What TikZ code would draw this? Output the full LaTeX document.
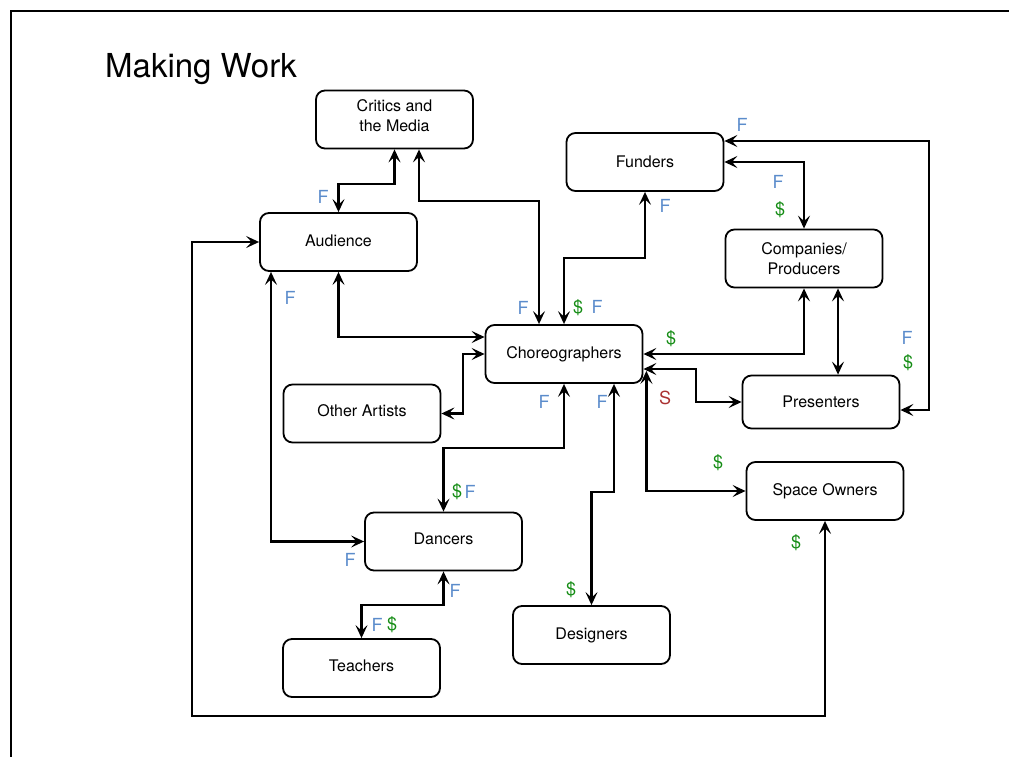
\documentclass[tikz,border=0pt]{standalone}
\usepackage{fontspec}
\setmainfont{TeX Gyre Heros}
\usetikzlibrary{arrows.meta}
\definecolor{fblue}{RGB}{91,140,203}
\definecolor{dgreen}{RGB}{20,140,20}
\definecolor{sred}{RGB}{170,50,50}
\begin{document}
\begin{tikzpicture}[x=1pt,y=-1pt,
  >={Stealth[length=13pt,width=12pt,inset=5.5pt]},
  box/.style={draw, line width=1.8pt, rounded corners=9pt, minimum width=157pt, minimum height=58pt,
    align=center, inner sep=0pt, font=\fontsize{16}{20}\selectfont},
  conn/.style={draw, line width=2.5pt, <->},
  lab/.style={font=\fontsize{18}{18}\selectfont, inner sep=0pt},
  fl/.style={lab, text=fblue},
  dl/.style={lab, text=dgreen},
  sl/.style={lab, text=sred}]
\useasboundingbox (0,0) rectangle (1009,757);
\draw[line width=1.8pt] (11,757) -- (11,11) -- (1009,11);
\node[anchor=base west, font=\fontsize{33}{33}\selectfont, inner sep=0pt] (title) at (105,78) {Making Work};

% nodes
\node[box, text depth=8pt] (cri) at (394.5,119.5) {Critics and\\the Media};
\node[box] (fun) at (645,162) {Funders};
\node[box, text depth=2pt] (aud) at (338.5,242) {Audience};
\node[box] (com) at (804,258.5) {Companies/\\Producers};
\node[box] (cho) at (564,354) {Choreographers};
\node[box, text depth=6pt] (oth) at (362,413.5) {Other Artists};
\node[box, minimum height=53pt] (pre) at (821,402) {Presenters};
\node[box] (spa) at (825,491) {Space Owners};
\node[box, text depth=6pt] (dan) at (443.5,541.5) {Dancers};
\node[box, text depth=4pt] (tea) at (361.5,668) {Teachers};
\node[box] (des) at (591.5,635) {Designers};

% connectors
\draw[conn] (aud.north) -- (aud.north |- 0,184) -| (cri.south);
\draw[conn] (cri.south -| 419,0) |- (539,201) -- (cho.north -| 539,0);
\draw[conn] (cho.north) |- (fun.south |- 0,258) -- (fun.south);
\draw[conn] (fun.east) -| (com.north);
\draw[conn] (fun.east |- 0,141) -- (929,141) |- (pre.east |- 0,410);
\draw[conn] (com.south) |- (cho.east);
\draw[conn] (com.south -| 838,0) -- (pre.north -| 838,0);
\draw[conn] (cho.east |- 0,369) -| (696,402) -- (pre.west);
\draw[conn] ([xshift=3pt,yshift=13pt]cho.south east) |- (spa.west);
\draw[conn] (cho.south -| 614,0) -- (614,492) -| (des.north);
\draw[conn] (cho.south) -- (cho.south |- 0,448) -| (dan.north);
\draw[conn] (cho.west) -| (oth.east -| 463,0) -- (oth.east);
\draw[conn] (aud.south) |- (cho.west |- 0,337);
\draw[conn] (aud.south -| 271,0) |- (dan.west);
\draw[conn] (spa.south) |- (192,716) |- (aud.west);
\draw[conn] (dan.south) |- (tea.north |- 0,605) -- (tea.north);

% labels
\node[fl] (l1) at (323,197) {F};
\node[fl] (l2) at (523,308) {F};
\node[dl] (l3) at (578,308) {\$};
\node[fl] (l4) at (597,307) {F};
\node[fl] (l5) at (665,206) {F};
\node[fl] (l6) at (742,125) {F};
\node[fl] (l7) at (778,182) {F};
\node[dl] (l8) at (780,210) {\$};
\node[fl] (l9) at (907,338) {F};
\node[dl] (l10) at (908,363) {\$};
\node[dl] (l11) at (671,339) {\$};
\node[sl] (l12) at (665,398) {S};
\node[fl] (l13) at (290,298) {F};
\node[fl] (l14) at (544,402) {F};
\node[fl] (l15) at (602,402) {F};
\node[dl] (l16) at (457,492) {\$};
\node[fl] (l17) at (470,492) {F};
\node[dl] (l18) at (718,463) {\$};
\node[dl] (l19) at (796,543) {\$};
\node[fl] (l20) at (350,560) {F};
\node[fl] (l21) at (455,591) {F};
\node[fl] (l22) at (377,625) {F};
\node[dl] (l23) at (392,625) {\$};
\node[dl] (l24) at (571,590) {\$};
\end{tikzpicture}
\end{document}
